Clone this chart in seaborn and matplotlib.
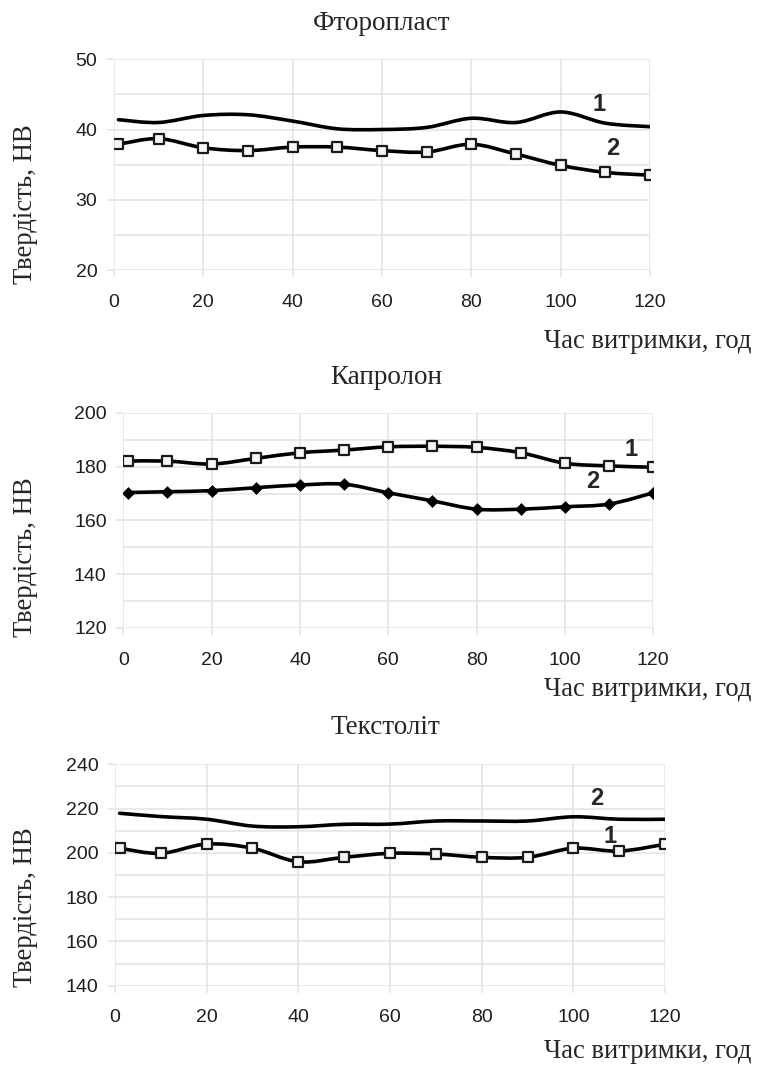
import numpy as np
import matplotlib
matplotlib.use("Agg")
import matplotlib.pyplot as plt
import seaborn as sns
from matplotlib.path import Path
from matplotlib.patches import PathPatch

# час витримки, год
hours = [1, 10, 20, 30, 40, 50, 60, 70, 80, 90, 100, 110, 120]

# Фторопласт
ftor_1 = [41.4, 41.0, 42.0, 42.1, 41.2, 40.1, 40.0, 40.3, 41.6, 41.0, 42.5, 40.9, 40.4]
ftor_2 = [37.9, 38.7, 37.4, 37.0, 37.5, 37.5, 37.0, 36.8, 37.9, 36.5, 34.9, 33.9, 33.5]

# Капролон
kapr_1 = [182.1, 182.1, 181.0, 183.1, 185.2, 186.2, 187.4, 187.6, 187.2, 185.2, 181.3, 180.3, 179.8]
kapr_2 = [170.4, 170.7, 171.1, 172.2, 173.2, 173.5, 170.3, 167.3, 164.2, 164.2, 165.1, 166.1, 170.3]

# Текстоліт
tekst_1 = [202.1, 199.8, 204.0, 202.1, 196.0, 198.0, 199.8, 199.5, 198.0, 198.0, 202.1, 200.8, 203.9]
tekst_2 = [217.9, 216.4, 215.2, 212.1, 211.8, 212.9, 213.0, 214.4, 214.4, 214.4, 216.3, 215.2, 215.2]

titles = ["Фторопласт", "Капролон", "Текстоліт"]
ylabel = "Твердість, НВ"
xlabel = "Час витримки, год"

sns.set_theme(style="white")
plt.rcParams["font.family"] = ["Liberation Sans", "DejaVu Sans"]

fig = plt.figure(figsize=(7.57, 10.66), dpi=100)

GRID = "#e3e3e3"


def smooth_line(ax, x, y, lw=2.6):
    # згладжена лінія як в Excel (криві Безьє через точки)
    x = np.asarray(x, float)
    y = np.asarray(y, float)
    n = len(x)
    verts = [(x[0], y[0])]
    codes = [Path.MOVETO]
    for i in range(n - 1):
        x0, y0 = (x[i - 1], y[i - 1]) if i > 0 else (x[i], y[i])
        x3, y3 = (x[i + 2], y[i + 2]) if i + 2 < n else (x[i + 1], y[i + 1])
        c1 = (x[i] + (x[i + 1] - x0) / 6, y[i] + (y[i + 1] - y0) / 6)
        c2 = (x[i + 1] - (x3 - x[i]) / 6, y[i + 1] - (y3 - y[i]) / 6)
        verts += [c1, c2, (x[i + 1], y[i + 1])]
        codes += [Path.CURVE4] * 3
    ax.add_patch(PathPatch(Path(verts, codes), fill=False, edgecolor="black",
                           lw=lw, zorder=3, capstyle="round"))


def style_axes(ax, ylim, ymajor, yminor):
    ax.set_xlim(0, 120)
    ax.set_ylim(*ylim)
    ax.set_xticks(range(0, 121, 20))
    ax.set_yticks(np.arange(ylim[0], ylim[1] + 0.1, ymajor))
    ax.set_yticks(np.arange(ylim[0], ylim[1] + 0.1, yminor), minor=True)
    ax.grid(True, which="both", color=GRID, lw=1.1, zorder=0)
    for s in ax.spines.values():
        s.set_visible(False)
    ax.tick_params(axis="both", which="major", length=5, width=1.1, color=GRID,
                   labelsize=14, labelcolor="#1e1e1e", direction="out")
    ax.tick_params(axis="y", which="major", pad=7, left=True)
    ax.tick_params(axis="x", which="major", pad=12, bottom=True)
    ax.tick_params(which="minor", length=0)
    ax.set_xlabel("")
    ax.set_ylabel("")


def annotate(ax, x, y, s):
    ax.text(x, y, s, fontsize=17, fontweight="bold", ha="center", va="center",
            family="Liberation Sans", zorder=5)


serif = ["Liberation Serif", "DejaVu Serif"]
sq = dict(marker="s", s=58, color="#f6f6f6", edgecolor="#1a1a1a",
          linewidth=1.6, zorder=4)

# --- Фторопласт ---
ax1 = fig.add_axes([0.1506, 0.7467, 0.7081, 0.1977])
smooth_line(ax1, hours, ftor_1)
smooth_line(ax1, hours, ftor_2)
sns.scatterplot(x=hours, y=ftor_2, ax=ax1, **sq)
style_axes(ax1, (20, 50), 10, 5)
annotate(ax1, 108.7, 43.6, "1")
annotate(ax1, 111.6, 37.3, "2")

# --- Капролон ---
ax2 = fig.add_axes([0.1629, 0.4109, 0.7001, 0.2017])
smooth_line(ax2, hours, kapr_1)
smooth_line(ax2, hours, kapr_2)
sns.scatterplot(x=hours, y=kapr_1, ax=ax2, **sq)
sns.scatterplot(x=hours, y=kapr_2, ax=ax2, marker="D", s=36, color="black",
                edgecolor="black", linewidth=0.5, zorder=4)
style_axes(ax2, (120, 200), 20, 10)
annotate(ax2, 114.9, 186.3, "1")
annotate(ax2, 106.4, 174.4, "2")

# --- Текстоліт ---
ax3 = fig.add_axes([0.1519, 0.0753, 0.7266, 0.2077])
smooth_line(ax3, hours, tekst_1)
smooth_line(ax3, hours, tekst_2)
sns.scatterplot(x=hours, y=tekst_1, ax=ax3, **sq)
style_axes(ax3, (140, 240), 20, 10)
annotate(ax3, 105.2, 224.6, "2")
annotate(ax3, 108.0, 207.4, "1")

# підписи (Times-подібний шрифт)
title_pos = [(382, 24), (386, 378), (385, 728)]
ylab_pos = [(25, 204), (25, 557), (25, 907)]
xlab_pos = [(752, 342), (752, 690), (752, 1052)]
W, H = 757, 1066
for t, (tx, ty), (yx, yy), (xx, xy) in zip(titles, title_pos, ylab_pos, xlab_pos):
    fig.text(tx / W, 1 - ty / H, t, ha="center", va="center", fontsize=19.5,
             family=serif)
    fig.text(yx / W, 1 - yy / H, ylabel, ha="center", va="center", rotation=90,
             fontsize=19.3, family=serif)
    fig.text(xx / W, 1 - xy / H, xlabel, ha="right", va="center", fontsize=19.2,
             family=serif)

fig.savefig("out.png", dpi=100, facecolor="white")
